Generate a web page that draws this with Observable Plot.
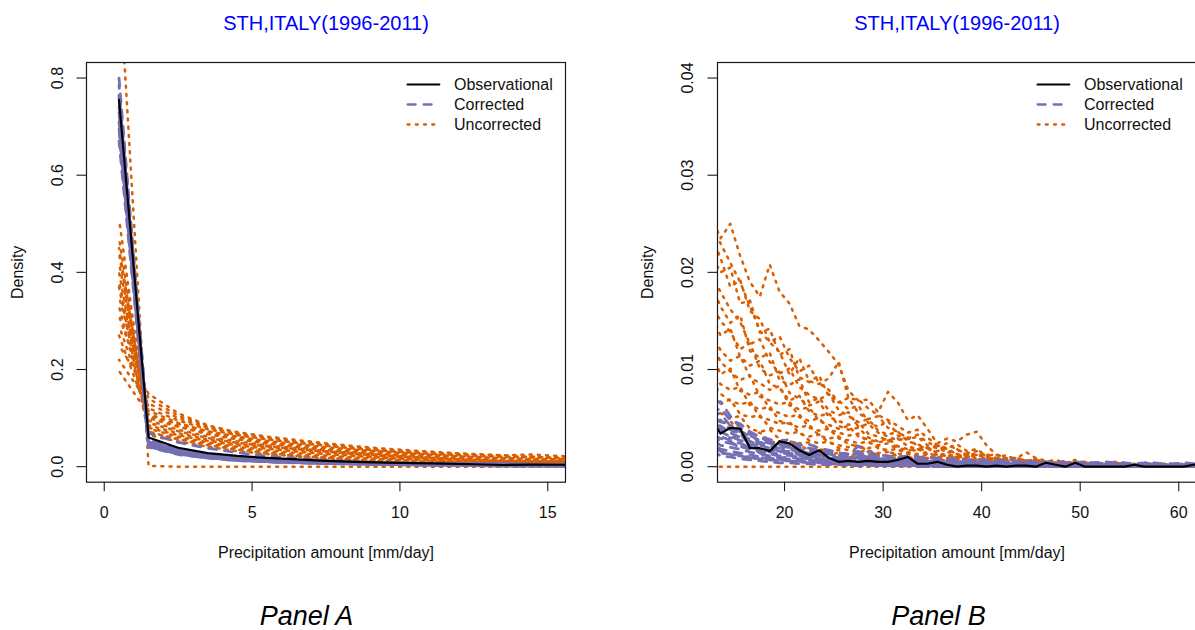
<!DOCTYPE html>
<html>
<head>
<meta charset="utf-8">
<script src="https://cdn.jsdelivr.net/npm/d3@7"></script>
<script src="https://cdn.jsdelivr.net/npm/@observablehq/plot@0.6"></script>
<style>
html, body { margin: 0; padding: 0; background: #fff; }
body { width: 1195px; height: 630px; overflow: hidden; position: relative; font-family: "Liberation Sans", Arial, Helvetica, sans-serif; }
.abs { position: absolute; }
.abs svg { max-width: none !important; }
</style>
</head>
<body>
<div id="panelA" class="abs" style="left:0px;top:0px;width:597px;"></div>
<div id="panelB" class="abs" style="left:598px;top:0px;width:600px;"></div>
<div id="legendA" class="abs" style="left:400px;top:70px;width:180px;"></div>
<div id="legendB" class="abs" style="left:1030.4px;top:70px;width:180px;"></div>
<script>
// ---------------- DATA ----------------
const chartTitle = "STH,ITALY(1996-2011)";
const xTitle = "Precipitation amount [mm/day]";
const yTitle = "Density";
const legendLabels = ["Observational", "Corrected", "Uncorrected"];

// bin mid-points (mm/day)
const xBins = [0.5,1.5,2.5,3.5,4.5,5.5,6.5,7.5,8.5,9.5,
  10.5,11.5,12.5,13.5,14.5,15.5,16.5,17.5,18.5,19.5,
  20.5,21.5,22.5,23.5,24.5,25.5,26.5,27.5,28.5,29.5,
  30.5,31.5,32.5,33.5,34.5,35.5,36.5,37.5,38.5,39.5,
  40.5,41.5,42.5,43.5,44.5,45.5,46.5,47.5,48.5,49.5,
  50.5,51.5,52.5,53.5,54.5,55.5,56.5,57.5,58.5,59.5,
  60.5,61.5,62.5];

const observational = [0.755,0.060,0.039,0.028,0.022,0.018,0.015,0.012,0.010,0.0085,
  0.0072,0.0062,0.0050,0.0034,0.0040,0.0039,0.0019,0.0019,0.0016,0.0026,
  0.0024,0.0017,0.0012,0.0017,0.0009,0.0005,0.0006,0.0005,0.0006,0.0005,
  0.0005,0.0007,0.0010,0.0003,0.0003,0.0005,0.0002,0,0.0001,0.0001,
  0,0.0001,0,0.0001,0.0001,0,0.0004,0.0002,0,0.0004,
  0,0,0,0,0,0.0002,0,0,0,0,
  0,0.0002,0.0002];

// Uncorrected model runs
const U0 = [1.02,0.0015,0,0,0,0,0,0,0,0,
  0,0,0,0,0,0,0,0,0,0,
  0,0,0,0,0,0,0,0,0,0,
  0,0,0,0,0,0,0,0,0,0,
  0,0,0,0,0,0,0,0,0,0,
  0,0,0,0,0,0,0,0,0,0,
  0,0,0];
const U1 = [0.25,0.15,0.11,0.085,0.071,0.062,0.055,0.048,0.042,0.037,
  0.033,0.029,0.026,0.0235,0.025,0.0217,0.019,0.0175,0.0208,0.018,
  0.0168,0.0145,0.0141,0.013,0.0118,0.0105,0.0078,0.0068,0.0069,0.0056,
  0.0077,0.0066,0.0048,0.0053,0.0039,0.0024,0.0029,0.0026,0.0033,0.0036,
  0.0022,0.0012,0.0009,0.0008,0.0015,0.0009,0.0006,0.0005,0.0004,0.0007,
  0.0004,0.0003,0.0004,0.0003,0.0002,0.0003,0.0004,0.0002,0.0002,0.0001,
  0.0002,0.0002,0.0002];
const U2 = [0.31,0.14,0.105,0.083,0.069,0.06,0.052,0.046,0.04,0.035,
  0.031,0.028,0.025,0.023,0.021,0.019,0.0165,0.014,0.0128,0.0118,
  0.0095,0.0112,0.0088,0.0085,0.0091,0.0108,0.007,0.0069,0.006,0.0053,
  0.0048,0.0042,0.0035,0.0038,0.003,0.0022,0.0019,0.0023,0.0016,0.0018,
  0.0011,0.0009,0.0012,0.0007,0.0006,0.0008,0.0005,0.0007,0.0004,0.0005,
  0.0003,0.0004,0.0003,0.0005,0.0003,0.0002,0.0003,0.0002,0.0003,0.0002,
  0.0001,0.0002,0.0001];
const U3 = [0.22,0.13,0.1,0.08,0.067,0.058,0.05,0.044,0.038,0.034,
  0.03,0.027,0.024,0.0215,0.0185,0.0192,0.016,0.0152,0.0128,0.0134,
  0.0112,0.0098,0.0104,0.0086,0.0079,0.0066,0.0071,0.0055,0.0049,0.0052,
  0.004,0.0036,0.0029,0.0033,0.0025,0.0021,0.0024,0.0017,0.0014,0.0016,
  0.0011,0.0013,0.0008,0.0009,0.0006,0.0007,0.0005,0.0004,0.0006,0.0003,
  0.0004,0.0003,0.0002,0.0003,0.0004,0.0002,0.0002,0.0003,0.0001,0.0002,
  0.0002,0.0001,0.0001];
const U4 = [0.35,0.12,0.095,0.077,0.065,0.056,0.049,0.043,0.037,0.032,
  0.028,0.025,0.022,0.02,0.0205,0.0168,0.0171,0.0138,0.0142,0.0115,
  0.0121,0.0092,0.0087,0.0094,0.0072,0.0068,0.0059,0.0063,0.0045,0.0041,
  0.0047,0.0032,0.0028,0.0031,0.0022,0.0019,0.0015,0.0018,0.0012,0.001,
  0.0013,0.0008,0.0007,0.001,0.0005,0.0006,0.0004,0.0005,0.0003,0.0004,
  0.0005,0.0002,0.0003,0.0002,0.0003,0.0002,0.0004,0.0002,0.0001,0.0002,
  0.0001,0.0002,0.0001];
const U5 = [0.197,0.108,0.088,0.073,0.062,0.053,0.046,0.04,0.035,0.031,
  0.027,0.023,0.02,0.018,0.0162,0.0149,0.0126,0.0131,0.0108,0.0096,
  0.0101,0.0082,0.0074,0.0069,0.0075,0.0058,0.0052,0.0046,0.0049,0.0037,
  0.0033,0.0036,0.0026,0.0023,0.0019,0.0022,0.0015,0.0013,0.0011,0.0014,
  0.0009,0.0007,0.0009,0.0006,0.0005,0.0007,0.0004,0.0003,0.0005,0.0003,
  0.0002,0.0003,0.0004,0.0002,0.0002,0.0003,0.0001,0.0002,0.0002,0.0001,
  0.0002,0.0001,0.0001];
const U6 = [0.29,0.115,0.09,0.072,0.06,0.051,0.044,0.038,0.033,0.029,
  0.025,0.022,0.019,0.0165,0.0148,0.0156,0.0119,0.0112,0.0117,0.0089,
  0.0084,0.009,0.0066,0.0071,0.0058,0.0053,0.0056,0.0041,0.0044,0.0035,
  0.0031,0.0027,0.003,0.0021,0.0019,0.0016,0.0019,0.0012,0.001,0.0012,
  0.0008,0.0009,0.0006,0.0005,0.0007,0.0004,0.0005,0.0003,0.0004,0.0002,
  0.0003,0.0004,0.0002,0.0002,0.0003,0.0001,0.0002,0.0003,0.0001,0.0001,
  0.0002,0.0001,0.0001];
const U7 = [0.38,0.1,0.082,0.067,0.056,0.048,0.041,0.035,0.03,0.026,
  0.023,0.02,0.017,0.015,0.0139,0.0121,0.0127,0.0101,0.0094,0.0098,
  0.0076,0.007,0.0063,0.0067,0.0051,0.0047,0.0043,0.0046,0.0034,0.0031,
  0.0027,0.0029,0.0021,0.0018,0.002,0.0014,0.0012,0.0011,0.0013,0.0008,
  0.0007,0.0009,0.0005,0.0006,0.0004,0.0005,0.0003,0.0004,0.0002,0.0003,
  0.0004,0.0002,0.0002,0.0001,0.0003,0.0002,0.0001,0.0002,0.0001,0.0002,
  0.0001,0.0001,0.0001];
const U8 = [0.27,0.105,0.084,0.068,0.057,0.048,0.041,0.035,0.03,0.026,
  0.022,0.019,0.016,0.0135,0.0142,0.0113,0.0104,0.0109,0.0085,0.0081,
  0.0068,0.0073,0.0057,0.0052,0.0055,0.0042,0.0038,0.004,0.003,0.0026,
  0.0029,0.0021,0.0018,0.0016,0.0019,0.0012,0.0011,0.0009,0.0011,0.0007,
  0.0006,0.0008,0.0005,0.0004,0.0005,0.0003,0.0004,0.0002,0.0003,0.0002,
  0.0002,0.0003,0.0001,0.0002,0.0001,0.0002,0.0001,0.0001,0.0002,0.0001,
  0.0001,0.0001,0.0001];
const U9 = [0.42,0.095,0.076,0.062,0.052,0.044,0.038,0.032,0.028,0.024,
  0.02,0.017,0.014,0.012,0.0109,0.0114,0.0092,0.0086,0.0079,0.0083,
  0.0063,0.0059,0.0061,0.0047,0.0043,0.0039,0.0042,0.0031,0.0028,0.0025,
  0.0027,0.0019,0.0017,0.0018,0.0013,0.0011,0.0012,0.0008,0.0009,0.0006,
  0.0007,0.0005,0.0004,0.0005,0.0003,0.0004,0.0002,0.0003,0.0002,0.0002,
  0.0001,0.0002,0.0002,0.0001,0.0001,0.0002,0.0001,0.0001,0.0001,0.0001,
  0.0001,0.0001,0.0001];
const U10 = [0.33,0.09,0.073,0.059,0.049,0.042,0.036,0.031,0.026,0.022,
  0.019,0.016,0.013,0.0108,0.0098,0.0089,0.0094,0.0072,0.0068,0.0064,
  0.0067,0.0051,0.0047,0.005,0.0038,0.0035,0.0032,0.0034,0.0025,0.0022,
  0.0024,0.0017,0.0015,0.0013,0.0015,0.001,0.0009,0.001,0.0007,0.0006,
  0.0007,0.0004,0.0005,0.0003,0.0004,0.0003,0.0002,0.0003,0.0002,0.0001,
  0.0002,0.0001,0.0001,0.0002,0.0001,0.0001,0.0001,0.0001,0.0001,0.0001,
  0.0001,0.0001,0.0001];
const U11 = [0.45,0.085,0.069,0.056,0.047,0.04,0.034,0.029,0.024,0.02,
  0.017,0.014,0.012,0.0095,0.0101,0.0078,0.0074,0.0077,0.0059,0.0055,
  0.0051,0.0054,0.004,0.0037,0.0039,0.0029,0.0027,0.0024,0.0026,0.0019,
  0.0017,0.0018,0.0013,0.0011,0.0012,0.0008,0.0009,0.0006,0.0007,0.0005,
  0.0004,0.0005,0.0003,0.0003,0.0004,0.0002,0.0003,0.0002,0.0001,0.0002,
  0.0001,0.0001,0.0002,0.0001,0.0001,0.0001,0.0001,0.0001,0.0001,0.0001,
  0,0.0001,0.0001];
const U12 = [0.47,0.08,0.065,0.053,0.044,0.037,0.031,0.026,0.022,0.018,
  0.015,0.012,0.01,0.0085,0.0079,0.0082,0.0063,0.0059,0.0062,0.0047,
  0.0044,0.004,0.0043,0.0032,0.0029,0.0031,0.0023,0.0021,0.0019,0.0021,
  0.0015,0.0013,0.0014,0.001,0.0009,0.001,0.0007,0.0006,0.0007,0.0004,
  0.0005,0.0003,0.0004,0.0002,0.0003,0.0002,0.0002,0.0001,0.0002,0.0001,
  0.0001,0.0001,0.0001,0.0001,0,0.0001,0.0001,0,0.0001,0,
  0.0001,0,0];
const U13 = [0.4,0.078,0.062,0.05,0.041,0.034,0.028,0.023,0.019,0.016,
  0.013,0.011,0.009,0.0075,0.0068,0.0064,0.0067,0.0051,0.0048,0.0044,
  0.0046,0.0034,0.0031,0.0033,0.0025,0.0022,0.002,0.0022,0.0016,0.0014,
  0.0015,0.0011,0.001,0.0008,0.0009,0.0006,0.0007,0.0005,0.0004,0.0005,
  0.0003,0.0003,0.0002,0.0003,0.0002,0.0001,0.0002,0.0001,0.0001,0.0001,
  0.0001,0,0.0001,0,0.0001,0,0,0.0001,0,0,
  0,0,0];
const U14 = [0.51,0.07,0.058,0.047,0.038,0.031,0.025,0.02,0.017,0.014,
  0.011,0.009,0.0075,0.0065,0.0069,0.0054,0.0051,0.0053,0.004,0.0037,
  0.0034,0.0036,0.0027,0.0024,0.0026,0.0019,0.0017,0.0015,0.0017,0.0012,
  0.0011,0.0012,0.0008,0.0007,0.0008,0.0005,0.0005,0.0004,0.0005,0.0003,
  0.0003,0.0002,0.0003,0.0002,0.0001,0.0002,0.0001,0.0001,0.0001,0,
  0.0001,0,0,0.0001,0,0,0,0,0,0.0001,
  0,0,0];
const U15 = [0.44,0.072,0.056,0.044,0.035,0.028,0.022,0.018,0.014,0.011,
  0.009,0.0075,0.0062,0.0055,0.005,0.0052,0.0039,0.0036,0.0038,0.0028,
  0.0026,0.0024,0.0025,0.0018,0.0016,0.0017,0.0012,0.0011,0.0012,0.0008,
  0.0007,0.0008,0.0005,0.0005,0.0004,0.0005,0.0003,0.0003,0.0002,0.0003,
  0.0002,0.0001,0.0002,0.0001,0.0001,0.0001,0,0.0001,0,0,
  0.0001,0,0,0,0,0,0,0,0,0,
  0,0,0];
const U16 = [0.37,0.065,0.052,0.041,0.032,0.026,0.021,0.017,0.013,0.01,
  0.008,0.0065,0.0052,0.0045,0.0047,0.0036,0.0033,0.0035,0.0026,0.0024,
  0.0022,0.0023,0.0016,0.0015,0.0013,0.0014,0.001,0.0009,0.001,0.0007,
  0.0006,0.0005,0.0006,0.0004,0.0003,0.0004,0.0002,0.0002,0.0003,0.0001,
  0.0002,0.0001,0.0001,0,0.0001,0,0.0001,0,0,0,
  0,0,0,0,0,0,0,0,0,0,
  0,0,0];

// Bias-corrected model runs
const C1 = [0.8,0.055,0.036,0.026,0.02,0.016,0.013,0.011,0.0095,0.0082,
  0.0074,0.0069,0.0066,0.0067,0.0052,0.004,0.0035,0.0031,0.0028,0.0026,
  0.0028,0.0022,0.0023,0.0019,0.0017,0.0014,0.0013,0.0021,0.0015,0.0012,
  0.0011,0.001,0.0011,0.001,0.0009,0.0009,0.0008,0.0008,0.0007,0.0008,
  0.0007,0.0006,0.0008,0.0006,0.0006,0.0005,0.0005,0.0005,0.0004,0.0005,
  0.0004,0.0004,0.0005,0.0004,0.0004,0.0003,0.0004,0.0004,0.0003,0.0003,
  0.0004,0.0003,0.0003];
const C2 = [0.785,0.069,0.05,0.038,0.029,0.022,0.017,0.013,0.01,0.0085,
  0.0072,0.0062,0.0055,0.006,0.0048,0.0044,0.0036,0.003,0.0026,0.0023,
  0.0026,0.002,0.0019,0.0017,0.0015,0.0012,0.0011,0.0014,0.0012,0.001,
  0.0009,0.0009,0.0008,0.0007,0.0008,0.0007,0.0006,0.0006,0.0005,0.0006,
  0.0005,0.0005,0.0006,0.0004,0.0005,0.0004,0.0004,0.0003,0.0004,0.0003,
  0.0003,0.0004,0.0003,0.0003,0.0003,0.0002,0.0003,0.0003,0.0002,0.0002,
  0.0003,0.0002,0.0002];
const C3 = [0.77,0.052,0.034,0.024,0.018,0.014,0.0115,0.0097,0.0083,0.0072,
  0.0064,0.0057,0.0052,0.0055,0.0042,0.0036,0.0032,0.0027,0.0024,0.0021,
  0.0024,0.0018,0.0016,0.0014,0.0013,0.001,0.0009,0.0012,0.001,0.0008,
  0.0008,0.0007,0.0008,0.0006,0.0006,0.0005,0.0005,0.0004,0.0005,0.0004,
  0.0004,0.0003,0.0004,0.0003,0.0003,0.0003,0.0002,0.0003,0.0002,0.0002,
  0.0003,0.0002,0.0002,0.0002,0.0002,0.0001,0.0002,0.0002,0.0001,0.0002,
  0.0001,0.0001,0.0002];
const C4 = [0.76,0.05,0.033,0.023,0.017,0.013,0.011,0.0092,0.0079,0.0068,
  0.006,0.0053,0.0047,0.0048,0.0038,0.0033,0.0028,0.0025,0.0021,0.0019,
  0.002,0.0016,0.0014,0.0012,0.0011,0.0009,0.0008,0.001,0.0008,0.0007,
  0.0006,0.0007,0.0006,0.0005,0.0005,0.0004,0.0004,0.0004,0.0003,0.0004,
  0.0003,0.0003,0.0003,0.0002,0.0003,0.0002,0.0002,0.0002,0.0001,0.0002,
  0.0002,0.0001,0.0002,0.0001,0.0001,0.0002,0.0001,0.0001,0.0001,0.0001,
  0.0001,0.0001,0.0001];
const C5 = [0.75,0.048,0.031,0.022,0.016,0.0125,0.0103,0.0087,0.0074,0.0064,
  0.0056,0.0049,0.0043,0.0042,0.0035,0.003,0.0026,0.0022,0.0019,0.0016,
  0.0018,0.0014,0.0012,0.0011,0.0009,0.0008,0.0007,0.0009,0.0007,0.0006,
  0.0005,0.0006,0.0005,0.0004,0.0004,0.0004,0.0003,0.0003,0.0003,0.0003,
  0.0002,0.0003,0.0002,0.0002,0.0002,0.0002,0.0001,0.0002,0.0001,0.0001,
  0.0002,0.0001,0.0001,0.0001,0.0001,0.0001,0.0001,0.0001,0.0001,0.0001,
  0.0001,0.0001,0.0001];
const C6 = [0.74,0.046,0.03,0.021,0.0155,0.012,0.0098,0.0082,0.007,0.006,
  0.0052,0.0045,0.0039,0.0036,0.0031,0.0027,0.0023,0.002,0.0017,0.0015,
  0.0016,0.0012,0.0011,0.0009,0.0008,0.0007,0.0006,0.0008,0.0006,0.0005,
  0.0005,0.0004,0.0005,0.0004,0.0003,0.0003,0.0003,0.0002,0.0003,0.0002,
  0.0002,0.0002,0.0002,0.0001,0.0002,0.0001,0.0001,0.0001,0.0001,0.0001,
  0.0001,0.0001,0.0001,0.0001,0.0001,0,0.0001,0.0001,0,0.0001,
  0.0001,0.0001,0];
const C7 = [0.73,0.045,0.029,0.02,0.015,0.0115,0.0094,0.0078,0.0066,0.0056,
  0.0048,0.0042,0.0036,0.0031,0.0027,0.0024,0.002,0.0018,0.0015,0.0013,
  0.0014,0.0011,0.0009,0.0008,0.0007,0.0006,0.0005,0.0006,0.0005,0.0004,
  0.0004,0.0003,0.0004,0.0003,0.0003,0.0002,0.0002,0.0002,0.0002,0.0002,
  0.0001,0.0002,0.0001,0.0001,0.0001,0.0001,0.0001,0.0001,0.0001,0,
  0.0001,0.0001,0,0.0001,0,0.0001,0,0.0001,0,0,
  0.0001,0,0];
const C8 = [0.72,0.044,0.028,0.0195,0.0145,0.011,0.009,0.0075,0.0063,0.0053,
  0.0045,0.0038,0.0032,0.0026,0.0024,0.0021,0.0018,0.0016,0.0013,0.0011,
  0.0012,0.0009,0.0008,0.0007,0.0006,0.0005,0.0004,0.0005,0.0004,0.0003,
  0.0003,0.0003,0.0003,0.0002,0.0002,0.0002,0.0002,0.0001,0.0002,0.0001,
  0.0001,0.0001,0.0001,0.0001,0,0.0001,0.0001,0,0.0001,0,
  0,0.0001,0,0,0.0001,0,0,0,0.0001,0,
  0,0,0];
const C9 = [0.71,0.043,0.027,0.019,0.014,0.0107,0.0087,0.0072,0.006,0.005,
  0.0042,0.0035,0.0029,0.0022,0.002,0.0018,0.0015,0.0013,0.0011,0.0009,
  0.001,0.0008,0.0007,0.0006,0.0005,0.0004,0.0004,0.0004,0.0003,0.0003,
  0.0002,0.0002,0.0002,0.0002,0.0002,0.0001,0.0001,0.0001,0.0001,0.0001,
  0.0001,0.0001,0,0.0001,0,0,0.0001,0,0,0,
  0,0,0,0,0,0,0,0,0,0,
  0,0,0];
const C10 = [0.7,0.042,0.0265,0.0185,0.0135,0.0104,0.0084,0.0069,0.0057,0.0047,
  0.0039,0.0032,0.0025,0.0018,0.0016,0.0014,0.0012,0.001,0.0009,0.0007,
  0.0008,0.0006,0.0005,0.0005,0.0004,0.0003,0.0003,0.0003,0.0002,0.0002,
  0.0002,0.0001,0.0002,0.0001,0.0001,0.0001,0.0001,0.0001,0,0.0001,
  0,0,0,0,0,0,0,0,0,0,
  0,0,0,0,0,0,0,0,0,0,
  0,0,0];
const C11 = [0.685,0.041,0.026,0.018,0.013,0.01,0.0081,0.0066,0.0054,0.0044,
  0.0036,0.0029,0.0022,0.0014,0.0013,0.0011,0.0009,0.0008,0.0007,0.0006,
  0.0006,0.0005,0.0004,0.0004,0.0003,0.0003,0.0002,0.0002,0.0002,0.0001,
  0.0001,0.0001,0.0001,0.0001,0.0001,0,0,0,0,0,
  0,0,0,0,0,0,0,0,0,0,
  0,0,0,0,0,0,0,0,0,0,
  0,0,0];
const C12 = [0.67,0.04,0.025,0.0175,0.0125,0.0097,0.0078,0.0063,0.0051,0.0041,
  0.0033,0.0026,0.0019,0.0011,0.001,0.0008,0.0007,0.0006,0.0005,0.0004,
  0.0004,0.0003,0.0003,0.0002,0.0002,0.0002,0.0001,0.0001,0.0001,0.0001,
  0.0001,0,0.0001,0,0,0,0,0,0,0,
  0,0,0,0,0,0,0,0,0,0,
  0,0,0,0,0,0,0,0,0,0,
  0,0,0];
const C13 = [0.765,0.051,0.035,0.025,0.019,0.015,0.012,0.0102,0.0087,0.0075,
  0.0066,0.0058,0.0051,0.0046,0.0044,0.0031,0.0034,0.0024,0.0027,0.0018,
  0.0022,0.0015,0.0019,0.0012,0.0015,0.0009,0.0011,0.0016,0.0009,0.001,
  0.0007,0.0009,0.0006,0.0008,0.0005,0.0007,0.0004,0.0006,0.0004,0.0005,
  0.0003,0.0005,0.0003,0.0004,0.0003,0.0004,0.0002,0.0003,0.0003,0.0002,
  0.0003,0.0002,0.0002,0.0003,0.0002,0.0002,0.0001,0.0002,0.0002,0.0001,
  0.0002,0.0001,0.0001];
const C14 = [0.745,0.047,0.031,0.0215,0.016,0.0123,0.01,0.0084,0.0072,0.0062,
  0.0054,0.0047,0.0041,0.0039,0.0029,0.0033,0.0022,0.0024,0.0016,0.0019,
  0.0013,0.0016,0.001,0.0012,0.0008,0.001,0.0007,0.0011,0.0006,0.0007,
  0.0005,0.0006,0.0004,0.0005,0.0003,0.0004,0.0003,0.0003,0.0002,0.0003,
  0.0002,0.0003,0.0002,0.0002,0.0001,0.0002,0.0002,0.0001,0.0002,0.0001,
  0.0001,0.0002,0.0001,0.0001,0.0001,0.0001,0.0001,0.0001,0,0.0001,
  0.0001,0,0.0001];
const C15 = [0.725,0.045,0.0285,0.0198,0.0147,0.0112,0.0092,0.0077,0.0065,0.0055,
  0.0047,0.004,0.0034,0.0029,0.0026,0.0019,0.0021,0.0014,0.0016,0.001,
  0.0012,0.0008,0.001,0.0006,0.0007,0.0005,0.0006,0.0004,0.0005,0.0003,
  0.0004,0.0003,0.0003,0.0002,0.0003,0.0002,0.0002,0.0001,0.0002,0.0001,
  0.0001,0.0001,0.0001,0,0.0001,0.0001,0,0.0001,0,0,
  0,0.0001,0,0,0,0,0.0001,0,0,0,
  0,0,0];
const C16 = [0.695,0.0415,0.0262,0.0182,0.0132,0.0102,0.0082,0.0068,0.0056,0.0046,
  0.0038,0.0031,0.0024,0.0016,0.0012,0.0013,0.0009,0.001,0.0007,0.0008,
  0.0005,0.0006,0.0004,0.0005,0.0003,0.0003,0.0002,0.0003,0.0002,0.0001,
  0.0002,0.0001,0.0001,0.0001,0,0.0001,0,0,0.0001,0,
  0,0,0,0,0,0,0,0,0,0,
  0,0,0,0,0,0,0,0,0,0,
  0,0,0];

const uncorrected = [U0,U1,U2,U3,U4,U5,U6,U7,U8,U9,U10,U11,U12,U13,U14,U15,U16];
const corrected = [C1,C2,C3,C4,C5,C6,C7,C8,C9,C10,C11,C12,C13,C14,C15,C16];

// ---------------- STYLE / LAYOUT ----------------
const FONT = '"Liberation Sans", Arial, Helvetica, sans-serif';
const INK = "#111";
const STY = {
  obs: {stroke: "#000000", strokeWidth: 2.2, strokeLinejoin: "round", strokeLinecap: "round"},
  cor: {stroke: "#7570B3", strokeWidth: 2.8, strokeDasharray: "8,8", strokeLinecap: "round", strokeLinejoin: "round"},
  unc: {stroke: "#D95F02", strokeWidth: 2.5, strokeDasharray: "2,6.2", strokeLinecap: "round", strokeLinejoin: "round"}
};
// dash phase of each run (the runs do not share their dash phase)
const corPhase = [0, 5, 10, 3, 13, 7, 1, 11, 4, 14, 8, 2, 6, 12, 9, 15];
const uncPhase = [0, 3, 6, 1, 4, 7, 2, 5, 0, 3, 6, 1, 4, 7, 2, 5, 0];

function toRows(vals) {
  return vals.map((v, j) => ({x: xBins[j], y: v}));
}

const panels = [
  {id: "panelA", width: 597, marginLeft: 86, marginRight: 32,
   xDomain: [-0.6, 15.6], yDomain: [-0.032, 0.832],
   xTicks: [0, 5, 10, 15], yTicks: [0, 0.2, 0.4, 0.6, 0.8], yFmt: d => d.toFixed(1),
   yLabDx: -28.7, yTitleDx: -69, label: "Panel A", labelDx: -19.5},
  {id: "panelB", width: 600, marginLeft: 119, marginRight: 2,
   xDomain: [13.2, 61.8], yDomain: [-0.0016, 0.0416],
   xTicks: [20, 30, 40, 50, 60], yTicks: [0, 0.01, 0.02, 0.03, 0.04], yFmt: d => d.toFixed(2),
   yLabDx: -30, yTitleDx: -69.6, label: "Panel B", labelDx: -18.5}
];

const plotStyle = {fontFamily: FONT, fontSize: "16px", color: INK, background: "transparent", overflow: "visible", maxWidth: "none"};

function makePanel(cfg) {
  const uncMarks = uncorrected.map((vals, i) =>
    Plot.line(toRows(vals), {x: "x", y: "y", ...STY.unc, strokeDashoffset: uncPhase[i], clip: true}));
  const corMarks = corrected.map((vals, i) =>
    Plot.line(toRows(vals), {x: "x", y: "y", ...STY.cor, strokeDashoffset: corPhase[i], clip: true}));
  return Plot.plot({
    width: cfg.width, height: 630,
    marginLeft: cfg.marginLeft, marginRight: cfg.marginRight, marginTop: 62, marginBottom: 148.3,
    x: {domain: cfg.xDomain},
    y: {domain: cfg.yDomain},
    style: plotStyle,
    marks: [
      ...uncMarks,
      ...corMarks,
      Plot.line(toRows(observational), {x: "x", y: "y", ...STY.obs, clip: true}),
      Plot.frame({stroke: "#1a1a1a", strokeWidth: 1.2}),
      Plot.axisX({ticks: cfg.xTicks, tickSize: 9.5, tickFormat: () => "", label: null, stroke: "#1a1a1a", strokeWidth: 1.1}),
      Plot.axisY({ticks: cfg.yTicks, tickSize: 9.5, tickFormat: () => "", label: null, stroke: "#1a1a1a", strokeWidth: 1.1}),
      Plot.text(cfg.xTicks, {x: d => d, text: d => String(d), frameAnchor: "bottom", dy: 30.8, lineAnchor: "middle", fontSize: 16, fill: INK}),
      Plot.text(cfg.yTicks, {y: d => d, text: cfg.yFmt, frameAnchor: "left", dx: cfg.yLabDx, rotate: -90, textAnchor: "middle", lineAnchor: "middle", fontSize: 16, fill: INK}),
      Plot.text([yTitle], {text: d => d, frameAnchor: "left", dx: cfg.yTitleDx, rotate: -90, textAnchor: "middle", lineAnchor: "middle", fontSize: 16, fill: INK}),
      Plot.text([xTitle], {text: d => d, frameAnchor: "bottom", dy: 70.3, lineAnchor: "middle", fontSize: 16, fill: INK}),
      Plot.text([chartTitle], {text: d => d, frameAnchor: "top", dy: -39, lineAnchor: "middle", fontSize: 20, fill: "#0000FF"}),
      Plot.text([cfg.label], {text: d => d, frameAnchor: "bottom", dx: cfg.labelDx, dy: 134, lineAnchor: "middle", fontSize: 27, fontStyle: "italic", fill: "#000"})
    ]
  });
}

function makeLegend() {
  return Plot.plot({
    width: 180, height: 66, margin: 0,
    x: {domain: [0, 180], range: [0, 180], axis: null},
    y: {type: "point", domain: legendLabels, range: [13.5, 54], padding: 0, axis: null},
    style: plotStyle,
    marks: [
      Plot.ruleY([legendLabels[0]], {y: d => d, x1: 7.6, x2: 39.3, ...STY.obs}),
      Plot.ruleY([legendLabels[1]], {y: d => d, x1: 7.6, x2: 39.3, ...STY.cor, strokeWidth: 2.3}),
      Plot.ruleY([legendLabels[2]], {y: d => d, x1: 7.6, x2: 39.3, ...STY.unc, strokeWidth: 2.3}),
      Plot.text(legendLabels, {y: d => d, x: 53.5, text: d => d, textAnchor: "start", lineAnchor: "middle", fontSize: 16, fill: INK})
    ]
  });
}

panels.forEach(cfg => document.getElementById(cfg.id).appendChild(makePanel(cfg)));
document.getElementById("legendA").appendChild(makeLegend());
document.getElementById("legendB").appendChild(makeLegend());
</script>
</body>
</html>
